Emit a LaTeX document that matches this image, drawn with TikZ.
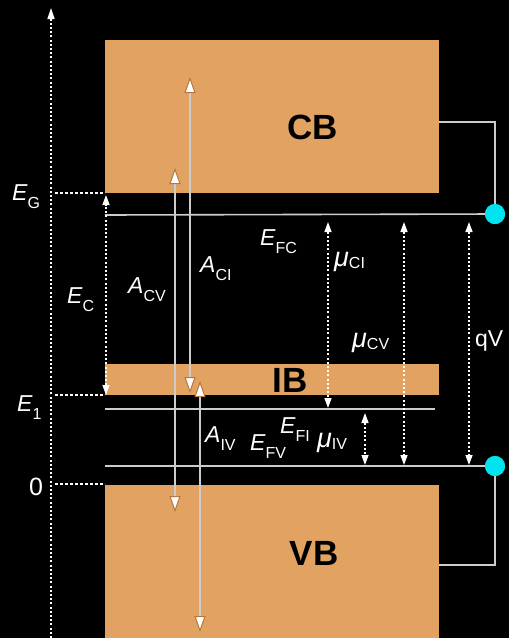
\documentclass[tikz,border=0pt]{standalone}
\usepackage{fontspec}
\setmainfont{Liberation Sans}
\usetikzlibrary{arrows.meta}
\definecolor{band}{HTML}{E1A262}
\definecolor{lvl}{HTML}{CCCCCC}
\definecolor{tipedge}{HTML}{B5773D}
\definecolor{cyandot}{HTML}{00E4F0}
\newcommand\symb[2]{{\fontsize{23}{23}\selectfont\itshape #1}\raisebox{-8pt}{\fontsize{16}{16}\selectfont #2}}
\newcommand\musym[1]{{\fontsize{27}{27}\selectfont\itshape μ}\raisebox{-2pt}{\fontsize{16}{16}\selectfont #1}}
\begin{document}
\begin{tikzpicture}[x=1pt,y=-1pt,
  bandbox/.style={fill=band, draw=none, inner sep=0pt, anchor=north west},
  bandtext/.style={font=\fontsize{35}{35}\selectfont\bfseries, text=black, inner sep=0pt},
  lab/.style={text=white, inner sep=0pt, anchor=base west},
  level/.style={draw=lvl, line width=1.6pt},
  trans/.style={draw=lvl, line width=1.5pt,
     {Triangle[length=16pt, width=11pt, fill=white, color=tipedge, line width=1pt]}-{Triangle[length=16pt, width=11pt, fill=white, color=tipedge, line width=1pt]}},
  dimarrow/.style={draw=white, line width=1.4pt, dash pattern=on 2pt off 2.2pt,
     {Triangle[length=10pt, width=7pt]}-{Triangle[length=10pt, width=7pt]}},
  guide/.style={draw=white, line width=1.3pt, dash pattern=on 2.5pt off 2.5pt},
  contact/.style={circle, fill=cyandot, minimum size=20pt, inner sep=0pt}]
\fill[black] (0,0) rectangle (509,638);
\useasboundingbox (0,0) rectangle (509,638);

% bands
\node[bandbox, minimum width=334pt, minimum height=153pt] (CB) at (105,40) {};
\node[bandbox, minimum width=334pt, minimum height=31pt] (IB) at (105,364) {};
\node[bandbox, minimum width=334pt, minimum height=160pt] (VB) at (105,485) {};
\node[bandtext] (CBt) at (313,127) {CB};
\node[bandtext] (IBt) at (290,380) {IB};
\node[bandtext] (VBt) at (314,553) {VB};

% energy axis
\coordinate (axB) at (51,638);
\coordinate (axT) at (51,8);
\draw[draw=white, line width=1.4pt, dash pattern=on 2pt off 2.2pt, -{Triangle[length=11pt, width=7pt]}] (axB) -- (axT);

% guide lines
\coordinate (gG1) at (55,193); \coordinate (gG2) at (105,193);
\coordinate (g11) at (55,395); \coordinate (g12) at (105,395);
\coordinate (g01) at (55,484); \coordinate (g02) at (105,484);
\draw[guide] (gG1) -- (gG2);
\draw[guide] (g11) -- (g12);
\draw[guide] (g01) -- (g02);

% quasi-Fermi levels and contacts
\node[contact] (cTop) at (495,214) {};
\node[contact] (cBot) at (495,466) {};
\coordinate (fcL) at (105,215);
\coordinate (fiL) at (105,409); \coordinate (fiR) at (435,409);
\coordinate (fvL) at (105,466);
\coordinate (cbW) at (439,122); \coordinate (cbC) at (495,122);
\coordinate (vbW) at (439,565); \coordinate (vbC) at (495,565);
\draw[level] (fcL) -- (cTop.center);
\draw[level] (fiL) -- (fiR);
\draw[level] (fvL) -- (cBot.center);
\draw[level] (cbW) -- (cbC) -- (cTop.center);
\draw[level] (vbW) -- (vbC) -- (cBot.center);
\node[contact] at (cTop) {};
\node[contact] at (cBot) {};

% E_C
\coordinate (ecT) at (106,195); \coordinate (ecB) at (106,395);
\draw[dimarrow] (ecB) -- (ecT);

% transitions
\coordinate (cvT) at (175,168); \coordinate (cvB) at (175,512);
\coordinate (ciT) at (190,77);  \coordinate (ciB) at (190,393);
\coordinate (ivT) at (200,381); \coordinate (ivB) at (200,632);
\draw[trans] (cvT) -- (cvB);
\draw[trans] (ciT) -- (ciB);
\draw[trans] (ivT) -- (ivB);

% chemical potentials
\coordinate (muciT) at (328,222); \coordinate (muciB) at (328,408);
\coordinate (muivT) at (365,413); \coordinate (muivB) at (365,465);
\coordinate (mucvT) at (404,222); \coordinate (mucvB) at (404,465);
\coordinate (qvT) at (469,222);   \coordinate (qvB) at (469,465);
\draw[dimarrow] (muciT) -- (muciB);
\draw[dimarrow] (muivT) -- (muivB);
\draw[dimarrow] (mucvT) -- (mucvB);
\draw[dimarrow] (qvT) -- (qvB);

% labels
\node[lab] (lEG) at (12,200) {\symb{E}{G}};
\node[lab] (lE1) at (17,411) {\symb{E}{1}};
\node[lab, font=\fontsize{25}{25}\selectfont] (l0) at (29,495) {0};
\node[lab] (lEC) at (67,303) {\symb{E}{C}};
\node[lab] (lACV) at (128,293) {\symb{A}{CV}};
\node[lab] (lACI) at (200,272) {\symb{A}{CI}};
\node[lab] (lEFC) at (260,245) {\symb{E}{FC}};
\node[lab] (lmuCI) at (334,266) {\musym{CI}};
\node[lab] (lmuCV) at (352,347) {\musym{CV}};
\node[lab, font=\fontsize{23}{23}\selectfont] (lqV) at (475,346) {qV};
\node[lab] (lAIV) at (205,442) {\symb{A}{IV}};
\node[lab] (lEFV) at (250,450) {\symb{E}{FV}};
\node[lab] (lEFI) at (280,433) {\symb{E}{FI}};
\node[lab] (lmuIV) at (317,447) {\musym{IV}};
\end{tikzpicture}
\end{document}
